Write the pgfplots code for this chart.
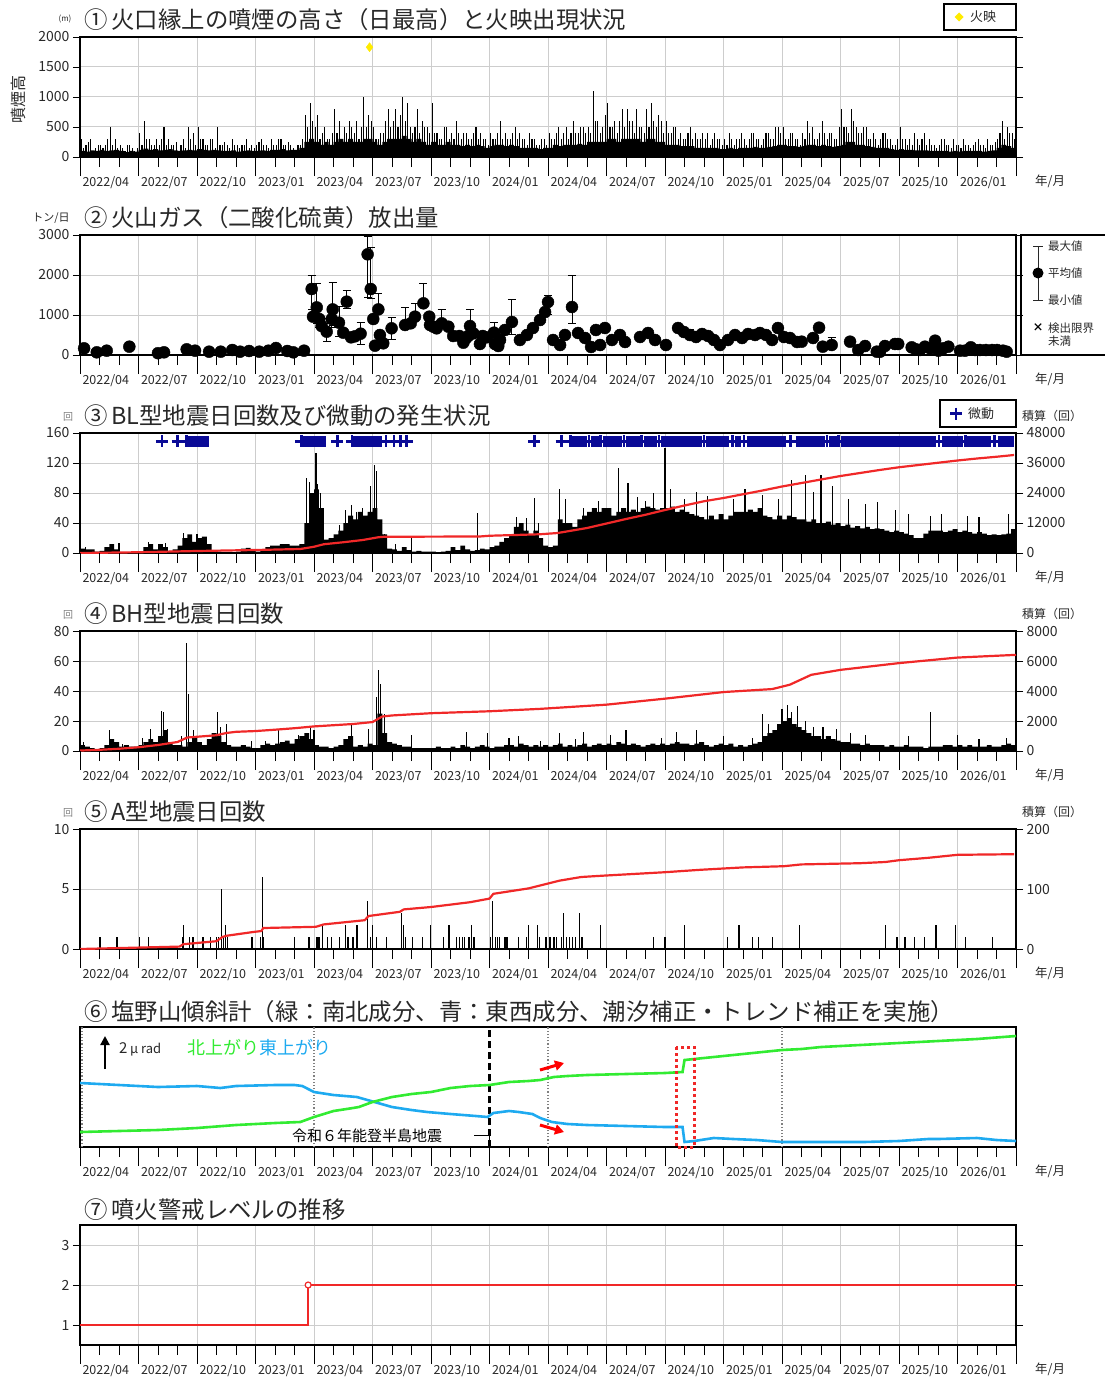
\documentclass[border=0pt]{standalone}
\usepackage{fontspec}
\setmainfont{Noto Sans CJK JP}
\usepackage{pgfplots}
\pgfplotsset{compat=1.18}
\usepackage{pgfplotstable}
\usetikzlibrary{arrows.meta}

\definecolor{ttl}{RGB}{40,40,40}
\definecolor{gridc}{RGB}{205,205,205}
\definecolor{bidou}{RGB}{10,10,150}
\definecolor{kaei}{RGB}{255,235,0}
\definecolor{tgreen}{RGB}{50,235,50}
\definecolor{tblue}{RGB}{30,170,240}
\definecolor{cumred}{RGB}{240,40,40}
\newcommand{\fs}[1]{\fontsize{#1}{#1}\selectfont}

\pgfplotsset{
  panel/.style={
    scale only axis, width=936pt, height=120pt, xmin=0, xmax=48, anchor=south west,
    axis line style={line width=1.5pt},
    xtick={0,3,...,48}, xticklabel style={opacity=0}, xtick style={draw=none},
    tick align=outside, major tick length=7pt,
    ytick style={black, line width=0.8pt},
    grid=major, grid style={gridc, line width=1pt},
    yticklabel style={font=\fs{14}, text=ttl},
    /pgf/number format/assume math mode=true,
    /pgf/number format/set thousands separator={},
    scaled y ticks=false,
  },
  rightax/.style={
    scale only axis, width=936pt, height=120pt, xmin=0, xmax=48, anchor=south west,
    axis x line=none, axis y line*=right, y axis line style={line width=1.5pt},
    tick align=outside, major tick length=7pt,
    ytick style={black, line width=0.8pt},
    yticklabel style={font=\fs{14}, text=ttl, anchor=west},
    /pgf/number format/assume math mode=true,
    /pgf/number format/set thousands separator={},
    scaled y ticks=false,
  },
  xframe/.style={
    scale only axis, width=936pt, height=120pt, xmin=0, xmax=48, ymin=0, ymax=1, anchor=south west,
    axis y line=none, axis x line*=bottom, x axis line style={draw=none},
    xtick={0,3,...,48},
    xticklabels={2022/04,2022/07,2022/10,2023/01,2023/04,2023/07,2023/10,2024/01,2024/04,2024/07,2024/10,2025/01,2025/04,2025/07,2025/10,2026/01,{}},
    minor xtick={1,2,4,5,7,8,10,11,13,14,16,17,19,20,22,23,25,26,28,29,31,32,34,35,37,38,40,41,43,44,46,47},
    tick align=outside, major tick length=19pt, minor tick length=10pt,
    tick style={black, line width=0.9pt},
    xticklabel style={anchor=north west, font=\fs{12.5}, text=ttl, xshift=-1pt, yshift=3pt},
  },
  cum/.style={cumred, line width=2.2pt},
}
\newcommand{\xframe}[1]{%
  \begin{axis}[xframe, at={(80pt,-#1pt)}]\end{axis}%
  \node[anchor=west, font=\fs{12.5}, text=ttl, inner sep=0pt] at (1035pt,-#1pt-24pt) {年/月};}

% panel 1: weekly plume heights (m): two daily maxima in each week and the week's usual level
\pgfplotstableread[row sep=\\]{
a b c\\
300 150 100\\ 200 250 90\\ 300 100 110\\ 150 200 100\\
200 150 120\\ 200 300 100\\ 500 200 110\\ 300 150 120\\
200 150 100\\ 100 200 80\\ 200 150 100\\ 100 150 90\\
400 200 120\\ 600 300 140\\ 300 200 120\\ 200 300 130\\
200 300 110\\ 500 200 120\\ 300 200 130\\ 200 250 110\\
100 200 100\\ 300 150 110\\ 500 300 120\\ 400 200 110\\
500 300 130\\ 300 200 120\\ 200 300 110\\ 300 150 120\\
500 200 110\\ 200 250 100\\ 200 150 100\\ 300 200 110\\
200 150 90\\ 200 200 100\\ 300 150 110\\ 200 150 100\\
200 250 100\\ 300 200 110\\ 200 150 100\\ 300 200 120\\
200 300 120\\ 300 200 130\\ 200 250 110\\ 200 150 120\\
100 200 120\\ 200 300 150\\ 700 500 250\\ 900 600 300\\
500 700 250\\ 300 400 200\\ 500 300 250\\ 300 400 200\\
800 400 250\\ 600 300 300\\ 500 400 250\\ 600 500 300\\
400 600 250\\ 300 500 250\\ 1000 500 300\\ 700 600 300\\
500 300 250\\ 300 400 200\\ 400 600 250\\ 800 500 300\\
600 800 300\\ 500 700 300\\ 1000 600 350\\ 900 500 300\\
400 500 250\\ 800 400 300\\ 600 500 250\\ 500 400 200\\
900 400 250\\ 400 300 200\\ 300 500 200\\ 500 300 250\\
400 300 200\\ 600 400 200\\ 300 400 180\\ 400 300 200\\
300 400 180\\ 500 300 200\\ 400 300 180\\ 300 200 150\\
400 300 180\\ 300 400 200\\ 600 300 200\\ 400 300 180\\
300 400 200\\ 500 300 180\\ 400 300 150\\ 300 200 150\\
400 300 150\\ 300 200 150\\ 200 300 130\\ 300 200 150\\
400 300 150\\ 300 400 200\\ 500 300 180\\ 400 500 200\\
300 400 200\\ 600 400 200\\ 400 500 220\\ 500 400 200\\
500 400 250\\ 1100 600 250\\ 600 400 250\\ 500 700 250\\
900 500 300\\ 500 600 300\\ 400 600 250\\ 800 500 300\\
800 600 300\\ 600 400 300\\ 800 500 300\\ 500 400 250\\
800 500 300\\ 900 600 300\\ 500 700 250\\ 600 400 250\\
600 400 200\\ 400 500 200\\ 500 300 200\\ 400 300 180\\
300 400 180\\ 500 300 180\\ 400 300 150\\ 300 400 150\\
300 400 150\\ 200 300 150\\ 400 300 150\\ 300 200 130\\
300 200 130\\ 400 300 150\\ 200 300 130\\ 300 400 150\\
300 200 150\\ 300 400 150\\ 400 300 170\\ 300 200 150\\
300 400 150\\ 400 300 170\\ 300 500 180\\ 500 400 200\\
500 300 200\\ 300 400 180\\ 400 300 180\\ 300 200 170\\
400 300 180\\ 600 400 200\\ 500 300 200\\ 300 400 180\\
600 400 200\\ 300 400 180\\ 400 300 170\\ 300 500 180\\
800 500 200\\ 500 400 250\\ 800 600 250\\ 500 400 200\\
400 500 200\\ 500 300 180\\ 300 400 170\\ 300 200 150\\
300 400 150\\ 400 300 150\\ 300 200 130\\ 200 300 120\\
500 300 130\\ 300 200 120\\ 300 200 120\\ 400 300 110\\
200 300 110\\ 400 200 110\\ 300 200 100\\ 200 150 100\\
200 300 100\\ 300 200 100\\ 200 150 90\\ 300 200 100\\
200 150 90\\ 300 200 100\\ 200 150 100\\ 200 250 100\\
300 200 100\\ 200 150 90\\ 300 200 100\\ 200 250 110\\
300 400 150\\ 600 300 200\\ 500 400 180\\ 400 300 150\\
0 0 150\\
}\plumeT

% panel 2: SO2 flux (t/day): month, mean, +err, -err
\pgfplotstableread[row sep=\\]{
x v ep em\\
0.21 167 0 0\\ 0.86 67 0 0\\ 1.37 108 0 0\\ 2.53 208 100 60\\ 4.00 45 0 0\\ 4.31 67 0 0\\
5.47 142 0 0\\ 5.90 108 0 0\\ 6.62 83 0 0\\ 7.22 83 0 0\\ 7.81 125 0 0\\ 8.21 83 0 0\\
8.67 100 0 0\\ 9.19 83 0 0\\ 9.66 108 0 0\\ 10.05 175 0 0\\ 10.63 100 0 0\\ 10.94 67 0 0\\
11.49 108 0 0\\ 11.88 1650 350 520\\ 11.95 958 0 0\\ 12.14 1190 610 400\\ 12.27 900 0 200\\
12.39 725 200 100\\ 12.65 583 200 240\\ 12.91 900 200 200\\ 12.96 1140 680 400\\ 13.28 808 400 350\\
13.50 558 100 100\\ 13.68 1333 290 180\\ 13.90 442 50 100\\ 14.10 467 0 0\\ 14.39 533 270 260\\
14.75 2517 450 1090\\ 14.91 1650 1050 230\\ 15.04 900 0 0\\ 15.13 233 0 0\\ 15.30 1140 390 60\\
15.38 500 0 0\\ 15.55 292 0 0\\ 15.98 667 263 287\\ 16.67 750 450 120\\ 16.96 792 0 0\\
17.18 958 342 0\\ 17.61 1292 508 0\\ 17.91 958 0 0\\ 17.95 750 0 0\\ 18.12 708 0 0\\
18.29 667 0 0\\ 18.55 792 358 0\\ 18.89 708 0 0\\ 19.14 475 0 0\\ 19.45 475 0 0\\
19.66 308 0 0\\ 19.79 417 0 0\\ 19.91 475 0 0\\ 20.00 725 405 200\\ 20.17 542 0 0\\
20.51 275 0 0\\ 20.65 475 0 0\\ 20.86 442 0 0\\ 21.23 558 250 0\\ 21.28 275 0 0\\
21.45 225 0 0\\ 21.54 375 0 0\\ 21.79 625 0 0\\ 22.15 825 575 300\\ 22.56 375 0 0\\
22.92 500 0 0\\ 23.23 675 0 0\\ 23.59 875 0 0\\ 23.85 1075 0 0\\ 24.00 1325 175 300\\
24.26 375 0 0\\ 24.62 250 0 0\\ 24.87 500 0 0\\ 25.23 1200 800 400\\ 25.54 550 0 0\\
25.90 425 0 0\\ 26.21 200 0 0\\ 26.46 625 0 0\\ 26.67 250 0 0\\ 26.92 675 0 0\\
27.28 375 0 0\\ 27.69 500 0 0\\ 27.95 325 0 0\\ 28.72 450 0 0\\ 29.13 550 0 0\\
29.49 375 0 0\\ 30.05 250 0 0\\ 30.67 675 0 0\\ 30.97 575 0 0\\ 31.28 500 150 0\\
31.59 450 0 0\\ 31.90 525 0 0\\ 32.21 475 0 0\\ 32.51 375 100 0\\ 32.82 250 0 0\\
33.23 375 0 0\\ 33.59 500 100 0\\ 33.95 425 0 0\\ 34.26 525 0 0\\ 34.62 500 0 0\\
34.87 550 0 0\\ 35.18 500 0 0\\ 35.49 375 0 0\\ 35.79 675 100 100\\ 36.10 450 0 0\\
36.41 425 0 0\\ 36.77 325 80 0\\ 37.01 333 0 0\\ 37.59 425 0 0\\ 37.90 683 0 0\\
38.09 208 0 0\\ 38.55 250 183 0\\ 39.49 333 0 0\\ 39.91 125 0 0\\ 40.26 225 0 0\\
40.86 83 0 0\\ 41.03 83 0 0\\ 41.28 225 0 0\\ 41.79 275 0 0\\ 41.96 275 0 0\\
42.65 192 0 0\\ 42.87 142 0 0\\ 43.08 125 0 0\\ 43.33 208 0 0\\ 43.59 167 0 0\\
43.85 358 0 0\\ 44.02 108 0 0\\ 44.27 167 0 0\\ 44.53 208 0 0\\ 45.13 108 0 0\\
45.38 108 0 0\\ 45.68 192 0 0\\ 45.90 125 0 0\\ 46.15 125 0 0\\ 46.46 125 0 0\\
46.77 125 0 0\\ 47.03 125 0 0\\ 47.33 108 0 0\\ 47.52 83 0 0\\
}\gasT

% panel 3: BL weekly level
\pgfplotstableread[row sep=\\]{
v\\
6\\5\\5\\2\\ 3\\8\\12\\5\\ 1\\0\\1\\2\\ 2\\8\\12\\5\\ 12\\8\\3\\5\\ 10\\20\\25\\15\\
20\\22\\12\\4\\ 2\\1\\1\\1\\ 2\\6\\7\\3\\ 2\\4\\8\\10\\ 10\\12\\12\\10\\ 10\\12\\40\\80\\
85\\60\\18\\20\\ 25\\30\\40\\50\\ 45\\55\\50\\55\\ 60\\45\\25\\6\\ 5\\3\\8\\4\\ 2\\3\\2\\2\\
2\\1\\2\\3\\ 8\\4\\10\\5\\ 3\\4\\6\\5\\ 8\\10\\15\\20\\ 25\\35\\40\\30\\ 25\\30\\20\\10\\
8\\10\\45\\40\\ 40\\35\\45\\50\\ 55\\60\\55\\60\\ 60\\50\\55\\60\\ 55\\58\\55\\60\\ 62\\60\\58\\60\\
60\\62\\55\\58\\ 55\\52\\50\\48\\ 45\\50\\45\\52\\ 45\\50\\55\\55\\ 55\\58\\55\\60\\ 50\\48\\45\\50\\
45\\50\\48\\45\\ 45\\42\\45\\40\\ 40\\42\\38\\40\\ 36\\38\\34\\36\\ 33\\35\\32\\33\\ 32\\30\\28\\30\\
28\\26\\24\\20\\ 20\\26\\30\\30\\ 30\\28\\30\\32\\ 28\\30\\28\\26\\ 28\\26\\24\\25\\ 24\\25\\26\\32\\
32\\
}\fillC

% panel 4: BH weekly level
\pgfplotstableread[row sep=\\]{
v\\
4\\3\\2\\1\\ 2\\4\\8\\6\\ 3\\4\\3\\3\\ 4\\6\\8\\6\\ 10\\14\\6\\4\\ 4\\3\\6\\10\\
6\\4\\8\\12\\ 10\\6\\4\\3\\ 3\\4\\3\\2\\ 2\\4\\5\\4\\ 5\\6\\7\\5\\ 8\\10\\12\\8\\
4\\3\\3\\2\\ 3\\4\\8\\10\\ 3\\4\\3\\5\\ 4\\25\\12\\6\\ 5\\4\\3\\3\\ 2\\2\\2\\2\\
2\\3\\2\\2\\ 3\\2\\4\\3\\ 2\\3\\4\\3\\ 2\\3\\3\\4\\ 4\\3\\5\\4\\ 3\\4\\3\\4\\
3\\4\\5\\3\\ 4\\3\\4\\5\\ 3\\4\\5\\4\\ 5\\4\\6\\5\\ 4\\5\\4\\3\\ 4\\5\\4\\5\\
4\\5\\6\\5\\ 5\\4\\5\\6\\ 4\\3\\4\\5\\ 4\\5\\3\\4\\ 3\\4\\5\\6\\ 10\\12\\14\\18\\
20\\22\\18\\16\\ 14\\12\\10\\10\\ 8\\10\\8\\7\\ 6\\6\\5\\5\\ 4\\5\\4\\4\\ 4\\3\\4\\3\\
3\\4\\3\\3\\ 3\\2\\3\\3\\ 3\\4\\4\\3\\ 4\\3\\4\\3\\ 3\\3\\4\\3\\ 3\\4\\5\\4\\
4\\
}\fillD

\begin{document}
\begin{tikzpicture}
\useasboundingbox (0,0) rectangle (1105pt,-1378pt);

%% ---- panel 1 ----
\begin{axis}[panel, at={(80pt,-157pt)}, ymin=0, ymax=2000, ytick={0,500,...,2000}]
\addplot[fill=black, draw=none, const plot mark left] table[x expr=\coordindex*0.25, y=c]{\plumeT} \closedcycle;
\addplot[ycomb, black, line width=1.1pt] table[x expr=\coordindex*0.25+0.06, y=a]{\plumeT};
\addplot[ycomb, black, line width=1.1pt] table[x expr=\coordindex*0.25+0.18, y=b]{\plumeT};
\addplot[only marks, mark=diamond*, mark size=4.5pt, color=kaei] coordinates {(14.85,1830)};
\end{axis}
\xframe{157}

%% ---- panel 2 ----
\begin{axis}[panel, at={(80pt,-355pt)}, ymin=0, ymax=3000, ytick={0,1000,2000,3000}]
\addplot[draw=none, mark=none, error bars/.cd, y dir=both, y explicit,
  error bar style={black, line width=0.9pt},
  error mark options={rotate=90, mark size=4pt, line width=0.9pt, black}]
  table[x=x, y=v, y error plus=ep, y error minus=em]{\gasT};
\addplot[only marks, mark=*, mark size=6pt, black] table[x=x, y=v]{\gasT};
\end{axis}
\xframe{355}

%% ---- panel 3 ----
\begin{axis}[panel, at={(80pt,-553pt)}, ymin=0, ymax=160, ytick={0,40,...,160}]
\addplot[fill=black, draw=none, const plot mark left] table[x expr=\coordindex*0.25, y=v]{\fillC} \closedcycle;
\addplot[ycomb, black, line width=1.1pt] coordinates {
(0.3,8) (2.0,13) (3.5,15) (4.4,14) (5.3,27) (6.0,25) (6.3,22) (11.6,100) (11.75,95) (12.1,133)
(12.2,92) (12.35,80) (13.3,38) (13.6,58) (13.9,64) (14.2,55) (14.5,60) (14.9,90) (15.1,118) (15.2,110)
(15.6,26) (16.2,12) (17.0,20) (20.4,53) (22.4,48) (22.9,47) (23.3,73) (23.5,40) (24.6,86) (24.9,72)
(25.8,60) (26.6,70) (27.6,113) (28.1,93) (28.6,75) (29.0,70) (29.4,80) (30.0,140) (30.3,85) (31.0,72)
(31.6,82) (32.2,76) (33.5,72) (34.1,85) (35.0,78) (35.8,72) (36.5,98) (37.2,104) (37.6,82) (38.0,104)
(38.6,90) (39.4,72) (40.3,65) (40.9,68) (41.8,58) (42.5,52) (43.6,50) (44.2,52) (45.5,50) (46.1,48) (47.6,52)};
% tremor: continuous spells as bands, single events as crosses
\addplot[bidou, line width=11pt, unbounded coords=jump] coordinates {
(5.5,149) (6.6,149) (6.6,nan) (11.4,149) (12.6,149) (12.6,nan) (14.0,149) (15.5,149) (15.5,nan)
(25.2,149) (26.0,149) (26.0,nan) (26.2,149) (26.6,149) (26.6,nan) (26.8,149) (27.8,149) (27.8,nan)
(28.0,149) (28.7,149) (28.7,nan) (28.9,149) (29.6,149) (29.6,nan) (29.8,149) (31.9,149) (31.9,nan)
(32.1,149) (33.3,149) (33.3,nan) (33.6,149) (33.9,149) (33.9,nan) (34.2,149) (36.2,149) (36.2,nan)
(36.7,149) (38.2,149) (38.2,nan) (38.4,149) (38.8,149) (38.8,nan) (39.0,149) (43.9,149) (43.9,nan)
(44.2,149) (45.3,149) (45.3,nan) (45.5,149) (46.7,149) (46.7,nan) (47.1,149) (47.9,149)};
\addplot[only marks, mark=+, mark size=6pt, bidou, mark options={line width=2.6pt}] coordinates {
(4.2,149) (5.0,149) (5.45,149) (11.35,149) (13.2,149) (13.95,149) (15.7,149) (16.1,149) (16.45,149)
(16.75,149) (23.3,149) (24.7,149) (25.15,149) (26.1,149) (26.7,149) (27.9,149) (28.8,149) (29.7,149)
(32.0,149) (33.45,149) (34.05,149) (36.45,149) (38.3,149) (38.9,149) (44.05,149) (45.4,149) (46.9,149)};
\end{axis}
\begin{axis}[rightax, at={(80pt,-553pt)}, ymin=0, ymax=48000, ytick={0,12000,...,48000}]
\addplot[cum] coordinates {
(0,0) (3,300) (6,800) (9,1200) (11.3,1600) (12,2500) (12.5,3500) (13.5,4300) (14.5,5200) (15.3,6300)
(15.6,6500) (20.5,6600) (21,6900) (23.6,7500) (24.5,8000) (26,10000) (27,11800) (28,13600) (29,15300)
(30,17200) (31,19000) (32,20700) (33,22000) (34,23500) (35,25000) (36,26600) (37,28000) (38,29400)
(39,30800) (40,32000) (41,33200) (42,34300) (43,35200) (44,36100) (45,37000) (46,37800) (47,38500) (47.9,39200)};
\end{axis}
\xframe{553}

%% ---- panel 4 ----
\begin{axis}[panel, at={(80pt,-751pt)}, ymin=0, ymax=80, ytick={0,20,...,80}]
\addplot[fill=black, draw=none, const plot mark left] table[x expr=\coordindex*0.25, y=v]{\fillD} \closedcycle;
\addplot[ycomb, black, line width=1.1pt] coordinates {
(0.2,6) (1.5,14) (2.2,5) (3.2,9) (3.6,15) (4.2,27) (4.3,26) (4.5,15) (5.2,10) (5.45,72) (5.55,38) (5.8,14)
(7.05,26) (7.2,16) (7.5,18) (8.8,7) (9.5,7) (10.2,15) (11.2,11) (11.8,16) (12.0,14) (13.9,19) (14.8,15)
(15.2,36) (15.3,54) (15.4,45) (15.6,25) (17.0,11) (19.8,13) (20.9,12) (22.0,9) (22.5,10) (23.6,7) (24.6,12)
(25.4,8) (25.8,13) (27.2,11) (28.0,14) (29.8,9) (30.6,13) (31.6,14) (33.0,10) (34.5,9) (35.0,25) (35.3,18)
(36.0,28) (36.3,31) (36.5,26) (36.8,30) (37.2,20) (37.6,16) (38.1,16) (38.8,15) (39.5,12) (40.3,11)
(42.5,10) (43.6,26) (45.0,11) (46.1,8) (47.5,9)};
\end{axis}
\begin{axis}[rightax, at={(80pt,-751pt)}, ymin=0, ymax=8000, ytick={0,2000,...,8000}]
\addplot[cum] coordinates {
(0,30) (1,80) (2,150) (3,250) (4,400) (5,600) (5.5,900) (6,950) (7,1050) (7.5,1200) (8,1280) (9,1330)
(10,1420) (11,1520) (12,1640) (13,1720) (14,1800) (15,1930) (15.5,2300) (16,2370) (18,2520) (21,2650)
(23.6,2810) (27,3090) (30,3490) (33,3930) (35.5,4130) (36.4,4420) (37.5,5080) (39,5410) (42,5860)
(45,6230) (47,6350) (48,6410)};
\end{axis}
\xframe{751}

%% ---- panel 5 ----
\begin{axis}[panel, at={(80pt,-949pt)}, ymin=0, ymax=10, ytick={0,5,10}]
\addplot[ycomb, black, line width=1.3pt] coordinates {
(1.03,1) (1.9,1) (3.06,1) (3.5,1) (5.27,1) (5.3,2) (5.6,1) (5.8,1) (6.3,1) (6.7,1) (7.0,1) (7.1,1) (7.24,5)
(7.35,1) (7.45,2) (7.55,1) (8.8,1) (8.85,1) (9.26,1) (9.35,6) (9.4,1) (11.0,1) (11.75,1) (12.15,1) (12.25,1)
(12.45,2) (12.7,1) (12.9,1) (13.3,1) (13.6,2) (13.75,1) (14.0,1) (14.2,2) (14.75,4) (14.9,1) (15.0,2) (15.2,1)
(15.7,1) (16.5,3) (16.6,2) (16.7,1) (17.05,1) (17.55,1) (17.97,2) (18.65,1) (18.93,2) (19.3,1) (19.45,1)
(19.6,1) (19.7,1) (19.95,1) (20.07,2) (20.2,1) (21.05,1) (21.15,4) (21.3,1) (21.4,1) (21.5,1) (21.8,1)
(21.9,1) (22.5,1) (22.9,1) (23.0,2) (23.45,2) (23.55,1) (23.9,1) (24.1,1) (24.3,1) (24.45,1) (24.7,1)
(24.8,3) (24.95,1) (25.1,1) (25.25,1) (25.4,1) (25.6,3) (25.75,1) (26.7,2) (29.4,1) (30.0,1) (31.0,2)
(33.2,1) (33.8,2) (34.5,1) (34.8,1) (35.5,1) (36.9,2) (41.3,2) (41.9,1) (42.3,1) (42.8,1) (43.3,1)
(43.9,2) (44.9,2) (45.4,1) (46.8,1)};
\end{axis}
\begin{axis}[rightax, at={(80pt,-949pt)}, ymin=0, ymax=200, ytick={0,100,200}]
\addplot[cum] coordinates {
(0,0) (5.1,4) (5.3,8) (7.0,13) (7.3,20) (7.5,22) (8.8,28) (9.3,30) (9.4,35) (12.1,37) (12.5,41) (14.6,48)
(14.8,55) (16.4,62) (16.6,66) (18,70) (20,78) (21.0,84) (21.2,92) (22,96) (23,101) (24.6,114) (25.7,120)
(26.7,122) (30,128) (31.8,132) (34,136) (36.1,138) (37,141) (40,143) (41.3,145) (42,148) (43.5,152)
(45,157) (47.9,158)};
\end{axis}
\xframe{949}

%% ---- panel 6 ----
\begin{axis}[panel, at={(80pt,-1147pt)}, ymin=0, ymax=120, ytick=\empty, grid=none]
\draw[gray, dotted, line width=1.2pt] (axis cs:0.1,0) -- (axis cs:0.1,120);
\draw[gray, dotted, line width=1.2pt] (axis cs:12,0) -- (axis cs:12,120);
\draw[gray, dotted, line width=1.2pt] (axis cs:24,0) -- (axis cs:24,120);
\draw[gray, dotted, line width=1.2pt] (axis cs:36,0) -- (axis cs:36,120);
\draw[black, dash pattern=on 7pt off 4pt, line width=2.2pt] (axis cs:21,0) -- (axis cs:21,120);
\addplot[tblue, line width=2.6pt] coordinates {
(0,64) (2,62) (4,60) (6,61) (7.2,59) (8,61) (10,62) (11,62) (11.4,61) (12,55) (13,52) (14.2,50) (15.1,45)
(16,40) (17,37) (17.8,35) (19,33) (20.3,31) (20.9,30) (21.2,34) (22,36) (22.5,35) (23.2,33) (23.6,29)
(24.2,25) (25,23) (26,22) (28,21) (30,20) (30.9,20) (31.0,5) (31.5,6) (32.5,9) (33.5,8) (34.7,7) (36,5)
(38,5) (40.2,5) (42,6) (43.5,8) (44,8) (46,9) (47,7) (48,6)};
\addplot[tgreen, line width=2.6pt] coordinates {
(0,15) (2,16) (4,17) (5,18) (6,19) (8,22) (10,24) (11.3,25) (12,30) (13,36) (14,39) (14.3,40) (15,45)
(16,50) (17,53) (18,55) (19,59) (20,61) (21,62) (22,65) (23,66) (23.6,67) (24.3,70) (25,71) (26,72)
(28,73) (30,74) (30.9,75) (31.0,87) (32,89) (33,91) (34,93) (35,95) (36,97) (37,98) (38,100) (40,102)
(42,104) (44,106) (46,108) (48,111)};
\end{axis}
\xframe{1147}

%% ---- panel 7 ----
\begin{axis}[panel, at={(80pt,-1345pt)}, ymin=0.5, ymax=3.5, ytick={1,2,3}]
\addplot[cum] coordinates {(0,1) (11.7,1) (11.7,2) (48,2)};
\addplot[only marks, mark=*, mark size=3pt, draw=cumred, fill=white, mark options={line width=1.2pt}] coordinates {(11.7,2)};
\end{axis}
\xframe{1345}

%% ---- titles and annotations ----
\begin{scope}[every node/.style={inner sep=0pt, text=ttl}]
\node[anchor=west, font=\fs{23.4}] at (84pt,-20pt) {①\,火口縁上の噴煙の高さ（日最高）と火映出現状況};
\node[anchor=west, font=\fs{23.4}] at (84pt,-218pt) {②\,火山ガス（二酸化硫黄）放出量};
\node[anchor=west, font=\fs{23.4}] at (84pt,-416pt) {③\,BL型地震日回数及び微動の発生状況};
\node[anchor=west, font=\fs{23.4}] at (84pt,-614pt) {④\,BH型地震日回数};
\node[anchor=west, font=\fs{23.4}] at (84pt,-812pt) {⑤\,A型地震日回数};
\node[anchor=west, font=\fs{23.4}] at (84pt,-1012pt) {⑥\,塩野山傾斜計（緑：南北成分、青：東西成分、潮汐補正・トレンド補正を実施）};
\node[anchor=west, font=\fs{23.4}] at (84pt,-1210pt) {⑦\,噴火警戒レベルの推移};
\node[font=\fs{8}] at (65pt,-19pt) {(m)};
\node[rotate=90, font=\fs{16}] at (18pt,-100pt) {噴煙高};
\node[font=\fs{11}] at (51pt,-218pt) {トン/日};
\node[font=\fs{10}, text=gray] at (68pt,-417pt) {回};
\node[font=\fs{10}, text=gray] at (68pt,-615pt) {回};
\node[font=\fs{10}, text=gray] at (68pt,-813pt) {回};
\node[anchor=west, font=\fs{12}] at (1022pt,-416pt) {積算（回）};
\node[anchor=west, font=\fs{12}] at (1022pt,-614pt) {積算（回）};
\node[anchor=west, font=\fs{12}] at (1022pt,-812pt) {積算（回）};
% legend 1
\draw[black, line width=1.8pt, fill=white] (944pt,-4pt) rectangle (1016pt,-30pt);
\node[font=\fs{13}, anchor=west] at (970pt,-17pt) {火映};
\fill[kaei] (959pt,-12.5pt) -- (963.5pt,-17pt) -- (959pt,-21.5pt) -- (954.5pt,-17pt) -- cycle;
% legend 2
\draw[black, line width=1.8pt] (1021pt,-235pt) rectangle (1110pt,-355pt);
\draw[ttl, line width=1pt] (1038pt,-246pt) -- (1038pt,-300pt);
\draw[ttl, line width=1pt] (1033pt,-246pt) -- (1043pt,-246pt);
\draw[ttl, line width=1pt] (1033pt,-300pt) -- (1043pt,-300pt);
\fill[black] (1038pt,-273pt) circle (5.5pt);
\node[anchor=west, font=\fs{11.5}] at (1048pt,-246pt) {最大値};
\node[anchor=west, font=\fs{11.5}] at (1048pt,-273pt) {平均値};
\node[anchor=west, font=\fs{11.5}] at (1048pt,-300pt) {最小値};
\node[font=\fs{11}, text=black] at (1038pt,-328pt) {\textbf{×}};
\node[anchor=west, font=\fs{11.5}] at (1048pt,-328pt) {検出限界};
\node[anchor=west, font=\fs{11.5}] at (1048pt,-341pt) {未満};
% legend 3
\draw[black, line width=1.8pt, fill=white] (940pt,-400pt) rectangle (1016pt,-427pt);
\draw[bidou, line width=2.4pt] (950pt,-413.5pt) -- (962pt,-413.5pt) (956pt,-407.5pt) -- (956pt,-419.5pt);
\node[anchor=west, font=\fs{13}] at (968pt,-413.5pt) {微動};
% panel 6 annotations
\draw[black, line width=2.6pt, -{Triangle[length=9pt, width=9pt]}] (105pt,-1069pt) -- (105pt,-1036pt);
\node[anchor=west, font=\fs{15}] at (119pt,-1049pt) {2\,{\fs{13}μ rad}};
\node[anchor=west, font=\fs{18}] at (187pt,-1048pt) {\textcolor{tgreen}{北上がり}\textcolor{tblue}{東上がり}};
\node[anchor=west, font=\fs{15}, text=black] at (292pt,-1136pt) {令和６年能登半島地震};
\draw[black, line width=1pt] (474pt,-1135pt) -- (489pt,-1135pt) -- (489pt,-1142pt);
\draw[cumred, line width=3pt, dash pattern=on 3pt off 3pt] (676pt,-1047pt) rectangle (694pt,-1147pt);
\draw[red, line width=3pt, -{Triangle[length=9pt, width=10pt]}] (540pt,-1070pt) -- (564pt,-1063pt);
\draw[red, line width=3pt, -{Triangle[length=9pt, width=10pt]}] (540pt,-1125pt) -- (564pt,-1132pt);
\end{scope}
\end{tikzpicture}
\end{document}
